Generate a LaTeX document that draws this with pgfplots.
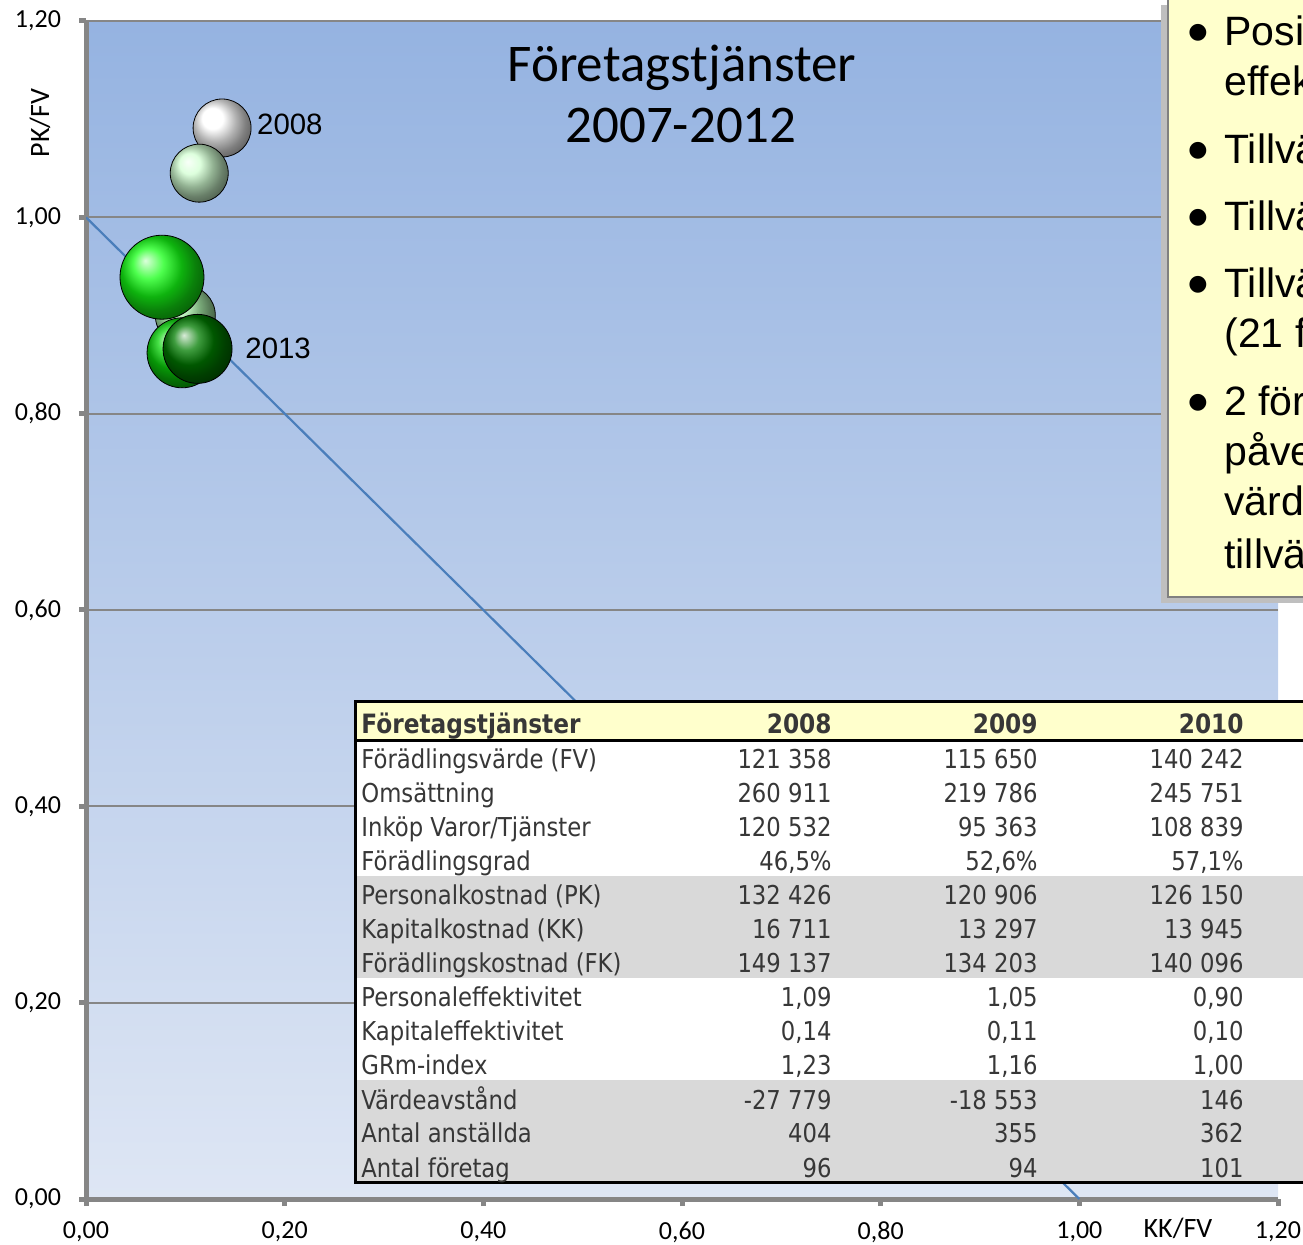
\documentclass[border=0pt]{standalone}
\usepackage{pgfplots}
\pgfplotsset{compat=1.18}
\usepackage{fontspec}
\setmainfont{Carlito}
\newfontfamily\arialf{Liberation Sans}
\newfontfamily\dejavu{DejaVu Sans}
\newfontfamily\tabfont[FakeStretch=0.875]{DejaVu Sans}
\definecolor{bgtop}{RGB}{149,179,225}
\definecolor{bgbot}{RGB}{222,230,244}
\definecolor{axgray}{RGB}{134,134,134}
\definecolor{gridgray}{RGB}{134,134,134}
\definecolor{linecol}{RGB}{74,126,187}
\definecolor{boxyel}{RGB}{255,255,204}
\definecolor{hdryel}{RGB}{255,255,204}
\definecolor{tabgray}{RGB}{217,217,217}
\definecolor{tabtext}{RGB}{55,55,55}
\definecolor{cA}{RGB}{255,255,255}
\definecolor{cB}{RGB}{210,255,210}
\definecolor{cC}{RGB}{175,245,175}
\definecolor{cD}{RGB}{20,255,20}
\definecolor{cE}{RGB}{10,215,10}
\definecolor{cF}{RGB}{0,125,0}
\tikzset{tabtxt/.style={font=\tabfont\fontsize{13}{15}\selectfont, text=tabtext, inner sep=0pt}}
\newcommand\trow[5]{%
  \node[tabtxt, anchor=base west] at (361,{769+34*(#1-1)}) {#2};
  \node[tabtxt, anchor=base east] at (832,{769+34*(#1-1)}) {#3};
  \node[tabtxt, anchor=base east] at (1038,{769+34*(#1-1)}) {#4};
  \node[tabtxt, anchor=base east] at (1244,{769+34*(#1-1)}) {#5};
}
\begin{document}
\begin{tikzpicture}
\useasboundingbox (0pt,0pt) rectangle (651.5pt,-622.5pt);
\begin{scope}
\clip (0pt,0pt) rectangle (651.5pt,-622.5pt);
\begin{axis}[
  at={(43pt,-599.5pt)}, anchor=south west,
  scale only axis, width=596pt, height=589pt,
  xmin=0, xmax=1.2, ymin=0, ymax=1.2,
  xtick={0,0.2,0.4,0.6,0.8,1.0,1.2},
  ytick={0,0.2,0.4,0.6,0.8,1.0,1.2},
  axis x line*=bottom, axis y line*=left,
  axis line style={draw=axgray, line width=2.5pt},
  tick style={draw=axgray, line width=2.5pt},
  tick align=outside, major tick length=3.5pt,
  ymajorgrids, grid style={draw=gridgray, line width=0.9pt},
  axis background/.style={top color=bgtop, bottom color=bgbot},
  tick label style={font=\fontsize{13}{15}\selectfont, text=black},
  xticklabel style={yshift=-4.5pt},
  yticklabel style={xshift=-5.5pt},
  /pgf/number format/fixed,
  /pgf/number format/fixed zerofill,
  /pgf/number format/precision=2,
  /pgf/number format/use comma,
  /pgf/number format/assume math mode=true,
]
% bubbles 2008..2013 (KK/FV, PK/FV)
\addplot[only marks, mark=ball, mark size=14.5pt, mark options={ball color=cA}] coordinates {(0.137,1.091)};
\addplot[only marks, mark=ball, mark size=14.5pt, mark options={ball color=cB}] coordinates {(0.114,1.045)};
\addplot[only marks, mark=ball, mark size=15pt, mark options={ball color=cC}] coordinates {(0.100,0.900)};
\addplot[only marks, mark=ball, mark size=21pt, mark options={ball color=cD}] coordinates {(0.0765,0.939)};
\addplot[only marks, mark=ball, mark size=17.5pt, mark options={ball color=cE}] coordinates {(0.0967,0.862)};
\addplot[only marks, mark=ball, mark size=17.25pt, mark options={ball color=cF}] coordinates {(0.1123,0.866)};
% reference line
\addplot[color=linecol, line width=1.1pt] coordinates {(0,1) (1,0)};
\node[anchor=base west, inner sep=0pt, font=\arialf\fontsize{14.7}{16}\selectfont] at (axis cs:0.1719,1.0839) {2008};
\node[anchor=base west, inner sep=0pt, font=\arialf\fontsize{14.7}{16}\selectfont] at (axis cs:0.1601,0.8564) {2013};
\end{axis}
\begin{scope}[x=0.5pt,y=-0.5pt]
% title
\node[anchor=base, inner sep=0pt, font=\fontsize{26.5}{30}\selectfont] at (682,81.7) {Företagstjänster};
\node[anchor=base, inner sep=0pt, font=\fontsize{26.5}{30}\selectfont] at (681,142.7) {2007-2012};
% axis labels
\node[anchor=base, inner sep=0pt, font=\fontsize{14}{16}\selectfont] at (1178,1238) {KK/FV};
\node[rotate=90, inner sep=0pt, font=\fontsize{14}{16}\selectfont] at (40,123) {PK/FV};
% text box
\fill[black!25] (1161,5) rectangle (1340,603);
\filldraw[fill=boxyel, draw=black!50, line width=1pt] (1168,-5) rectangle (1340,597);
\begin{scope}[every node/.style={inner sep=0pt, font=\arialf\fontsize{20.5}{25}\selectfont}]
\foreach \yy in {46,164,231,298,416} {
  \node[anchor=center, font=\dejavu\fontsize{11}{12}\selectfont] at (1198,\yy-13) {●};
}
\node[anchor=base west] at (1224,46) {Positiv utveckling};
\node[anchor=base west] at (1224,96) {effektiviteten};
\node[anchor=base west] at (1224,164) {Tillväxt};
\node[anchor=base west] at (1224,231) {Tillväxt};
\node[anchor=base west] at (1224,298) {Tillväxt};
\node[anchor=base west] at (1224,348) {(21 företag)};
\node[anchor=base west] at (1224,416) {2 företag};
\node[anchor=base west] at (1224,466) {påverkar};
\node[anchor=base west] at (1224,516) {värdet};
\node[anchor=base west] at (1224,569) {tillväxten};
\end{scope}
% table
\fill[white] (355,702) rectangle (1340,1183);
\fill[hdryel] (355,702) rectangle (1340,740);
\fill[tabgray] (355,876) rectangle (1340,978);
\fill[tabgray] (355,1080) rectangle (1340,1182);
\draw[black, line width=1.5pt] (1340,702) -- (355,702) -- (355,1183) -- (1340,1183);
\draw[black, line width=1.5pt] (355,740.5) -- (1340,740.5);
\node[tabtxt, anchor=base west, font=\tabfont\bfseries\fontsize{13.3}{15}\selectfont] at (361,734) {Företagstjänster};
\node[tabtxt, anchor=base east, font=\tabfont\bfseries\fontsize{13.3}{15}\selectfont] at (832,734) {2008};
\node[tabtxt, anchor=base east, font=\tabfont\bfseries\fontsize{13.3}{15}\selectfont] at (1038,734) {2009};
\node[tabtxt, anchor=base east, font=\tabfont\bfseries\fontsize{13.3}{15}\selectfont] at (1244,734) {2010};
\trow{1}{Förädlingsvärde (FV)}{121 358}{115 650}{140 242}
\trow{2}{Omsättning}{260 911}{219 786}{245 751}
\trow{3}{Inköp Varor/Tjänster}{120 532}{95 363}{108 839}
\trow{4}{Förädlingsgrad}{46,5\%}{52,6\%}{57,1\%}
\trow{5}{Personalkostnad (PK)}{132 426}{120 906}{126 150}
\trow{6}{Kapitalkostnad (KK)}{16 711}{13 297}{13 945}
\trow{7}{Förädlingskostnad (FK)}{149 137}{134 203}{140 096}
\trow{8}{Personaleffektivitet}{1,09}{1,05}{0,90}
\trow{9}{Kapitaleffektivitet}{0,14}{0,11}{0,10}
\trow{10}{GRm-index}{1,23}{1,16}{1,00}
\trow{11}{Värdeavstånd}{-27 779}{-18 553}{146}
\trow{12}{Antal anställda}{404}{355}{362}
\trow{13}{Antal företag}{96}{94}{101}
\end{scope}
\end{scope}
\end{tikzpicture}
\end{document}
